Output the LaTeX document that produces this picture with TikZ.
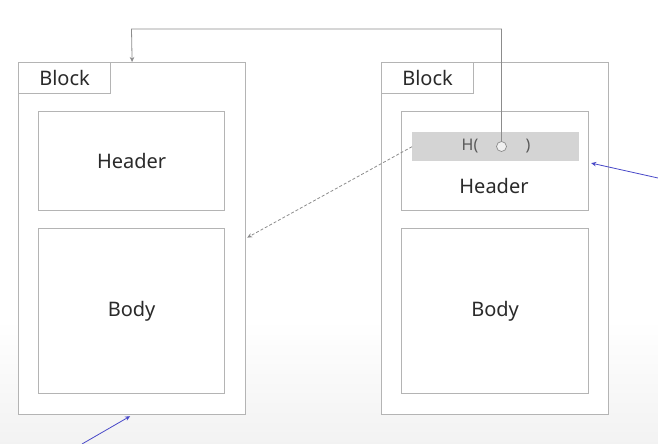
\documentclass[tikz,border=0pt]{standalone}
\usepackage{fontspec}
\setmainfont{Noto Sans}
\usetikzlibrary{arrows.meta,calc}
\definecolor{boxline}{HTML}{B4B4B4}
\definecolor{conn}{HTML}{8C8C8C}
\definecolor{tipc}{HTML}{555570}
\definecolor{bluec}{HTML}{4848C8}
\definecolor{barfill}{HTML}{D4D4D4}
\definecolor{txt}{HTML}{2A2A2A}
\begin{document}
\begin{tikzpicture}[x=1pt,y=-1pt,
  box/.style={draw=boxline,line width=1.2pt,fill=white,inner sep=0pt,anchor=north west},
  lbl/.style={font=\fontsize{20}{24}\selectfont,text=txt},
  gline/.style={draw=conn,line width=0.8pt},
  blue/.style={draw=bluec,line width=0.8pt}]
\useasboundingbox (0,0) rectangle (658,444);
\shade[top color=white,bottom color=black!5] (0,320) rectangle (658,444);
% left block
\node[box,minimum width=227pt,minimum height=352pt] (lblock) at (18,62) {};
\node[box,minimum width=92pt,minimum height=31pt] (ltab) at (18,62) {};
\node[lbl] at (ltab.center) {Block};
\node[box,minimum width=186pt,minimum height=99pt] (lheader) at (38,111) {};
\node[lbl] at (lheader.center) {Header};
\node[box,minimum width=186pt,minimum height=165pt] (lbody) at (38,228) {};
\node[lbl] at (lbody.center) {Body};
% right block
\node[box,minimum width=227pt,minimum height=352pt] (rblock) at (381,62) {};
\node[box,minimum width=92pt,minimum height=31pt] (rtab) at (381,62) {};
\node[lbl] at (rtab.center) {Block};
\node[box,minimum width=187pt,minimum height=99pt] (rheader) at (401,111) {};
\node[lbl] at (494,186) {Header};
\node[box,minimum width=187pt,minimum height=165pt] (rbody) at (401,228) {};
\node[lbl] at (rbody.center) {Body};
% hash bar
\node[fill=barfill,inner sep=0pt,minimum width=167pt,minimum height=29pt,anchor=north west] (bar) at (412,132) {};
\node[font=\fontsize{16}{19}\selectfont,text=black!65] at (470,146) {H(};
\node[font=\fontsize{16}{19}\selectfont,text=black!65] at (528,146) {)};
\node[circle,draw=black!45,fill=black!6,line width=0.7pt,minimum size=10pt,inner sep=0pt] (circ) at (501.5,146.5) {};
% connectors
\coordinate (t1) at (131.5,29);
\draw[gline,-{Stealth[length=5pt,width=4.5pt,fill=tipc]}] (circ.north) |- (t1) -- (lblock.north);
\draw[draw=black!45,line width=0.8pt,dash pattern=on 3pt off 2pt,-{Stealth[length=5pt,width=4.5pt,fill=tipc]}] (bar.west) -- ($(lblock.east)+(1,-1)$);
\coordinate (b1) at (658,178);
\draw[blue,-{Stealth[length=5pt,width=4.5pt]}] (b1) -- ($(rheader.east)+(2,2)$);
\coordinate (b2) at (82,444);
\draw[blue,-{Stealth[length=5pt,width=4.5pt]}] (b2) -- ($(lblock.south)+(-2,1)$);
\end{tikzpicture}
\end{document}
